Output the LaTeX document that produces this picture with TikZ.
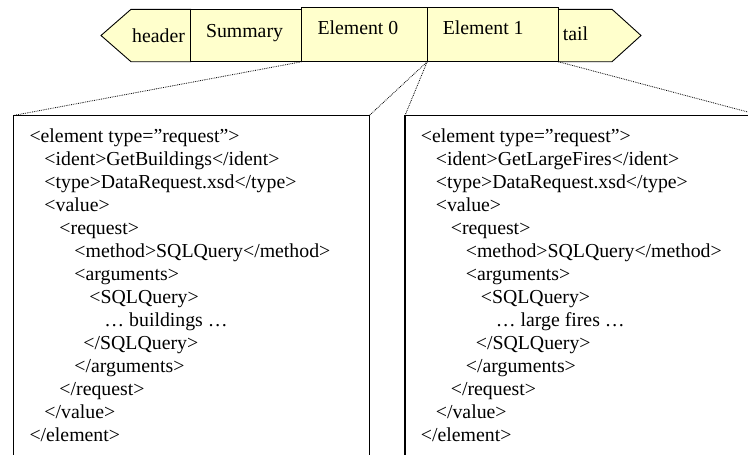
\documentclass[tikz,border=0pt]{standalone}
\usepackage{fontspec}
\setmainfont{Liberation Serif}
\usepackage{xcolor}
\usepackage{tikz}
\usetikzlibrary{positioning,calc}
\definecolor{segfill}{HTML}{FFFFCC}
\newcommand{\tagind}[1]{\hspace*{#1pt}}
\tikzset{
  seg/.style={draw, fill=segfill, line width=0.9pt, inner sep=0pt, outer sep=0pt, anchor=north west},
  segtxt/.style={inner sep=0pt, anchor=base west},
  xmlbox/.style={draw, line width=1.2pt, inner sep=0pt, outer sep=0pt, anchor=north west, minimum width=356pt, minimum height=360pt},
  xmltxt/.style={inner sep=0pt, anchor=north west, align=left},
  zoomline/.style={densely dotted, line width=0.8pt},
}

\begin{document}
\begin{tikzpicture}[x=1pt, y=-1pt, font=\fontsize{19.8}{23}\selectfont]
  \useasboundingbox (0,0) rectangle (748,455);
  \clip (0,0) rectangle (748,455);
  % message strip
  \draw[seg] (101,35.5) -- (131,9.3) -- (190.7,9.3) -- (190.7,61.7) -- (131,61.7) -- cycle;
  \draw[seg] (558.3,9.3) -- (612,9.3) -- (641,35.5) -- (612,61.7) -- (558.3,61.7) -- cycle;
  \node[seg, minimum width=111.2pt, minimum height=52.4pt] (sum) at (190.7,9.3) {};
  \node[seg, minimum width=125.3pt, minimum height=53.8pt] (el0) at (301.9,7.9) {};
  \node[seg, minimum width=131.1pt, minimum height=53.8pt] (el1) at (427.2,7.9) {};
  \node[segtxt] (hdtxt) at (132,42.7) {header};
  \node[segtxt] (sumtxt) at (205.8,37) {Summary};
  \node[segtxt] (el0txt) at (317.3,34.3) {Element 0};
  \node[segtxt] (el1txt) at (442.6,34.3) {Element 1};
  \node[segtxt] (tltxt) at (562.7,41) {tail};
  % expanded elements
  \node[xmlbox] (lbox) at (13.3,115.5) {};
  \node[xmlbox] (rbox) at (405,115.5) {};
  \node[xmltxt] (lxml) at (29.3,128.4) {<element type=”request”>\\
    \tagind{15}<ident>GetBuildings</ident>\\
    \tagind{15}<type>DataRequest.xsd</type>\\
    \tagind{15}<value>\\
    \tagind{30}<request>\\
    \tagind{45}<method>SQLQuery</method>\\
    \tagind{45}<arguments>\\
    \tagind{60}<SQLQuery>\\
    \tagind{75}… buildings …\\
    \tagind{54}</SQLQuery>\\
    \tagind{45}</arguments>\\
    \tagind{30}</request>\\
    \tagind{15}</value>\\
    </element>};
  \node[xmltxt] (rxml) at (420.7,128.4) {<element type=”request”>\\
    \tagind{15}<ident>GetLargeFires</ident>\\
    \tagind{15}<type>DataRequest.xsd</type>\\
    \tagind{15}<value>\\
    \tagind{30}<request>\\
    \tagind{45}<method>SQLQuery</method>\\
    \tagind{45}<arguments>\\
    \tagind{60}<SQLQuery>\\
    \tagind{75}… large fires …\\
    \tagind{55}</SQLQuery>\\
    \tagind{45}</arguments>\\
    \tagind{30}</request>\\
    \tagind{15}</value>\\
    </element>};
  \draw[zoomline] (el0.south west) -- (lbox.north west);
  \draw[zoomline] (el0.south east) -- (lbox.north east);
  \draw[zoomline] (el1.south west) -- (rbox.north west);
  \draw[zoomline] (el1.south east) -- (rbox.north east);
\end{tikzpicture}
\end{document}
